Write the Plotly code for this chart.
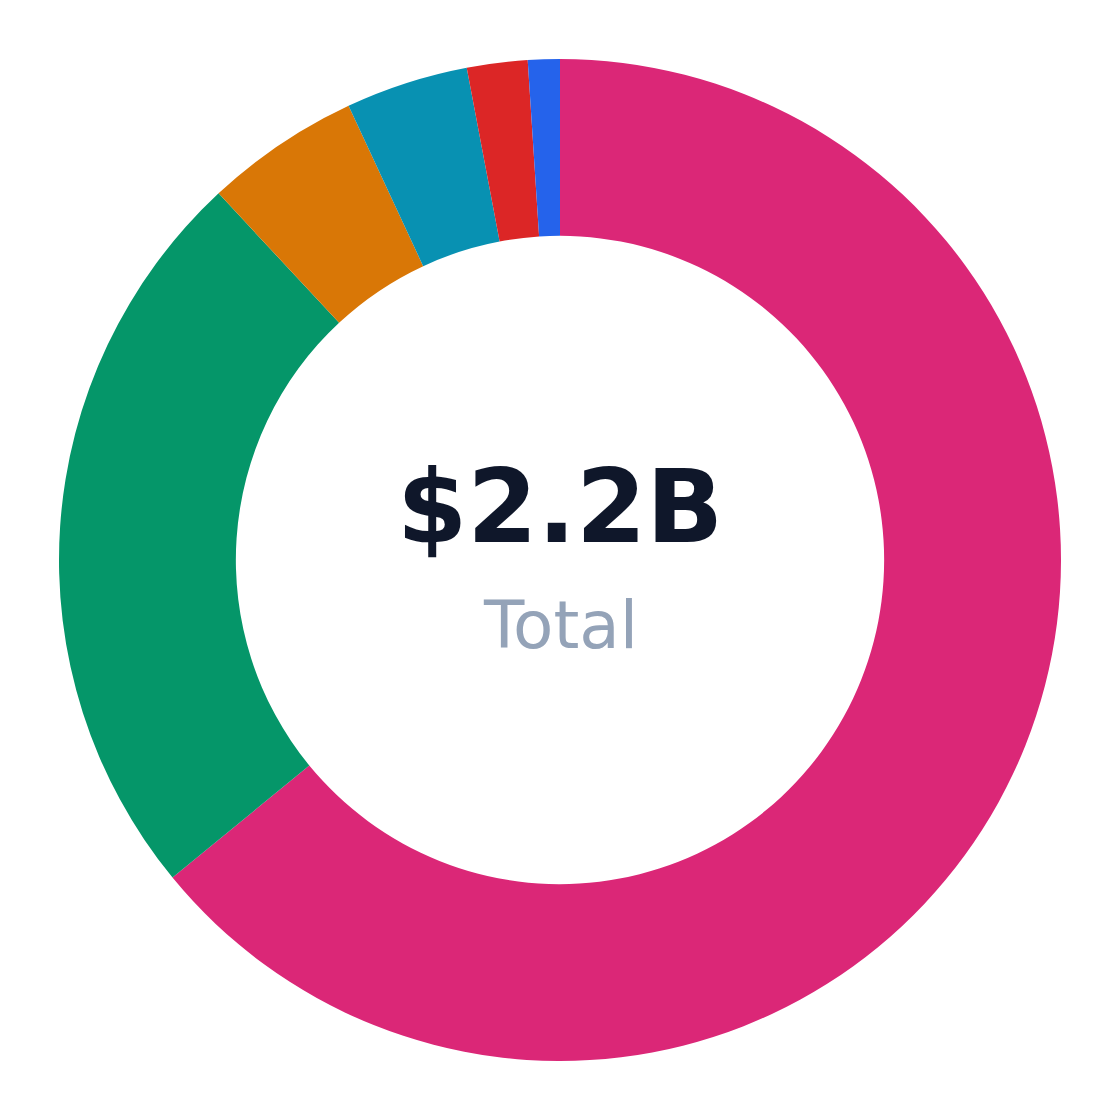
import plotly.graph_objects as go

# Slice values in $B
categories = ["Segment A", "Segment B", "Segment C", "Segment D", "Segment E", "Segment F"]
values = [1.41, 0.528, 0.11, 0.087, 0.043, 0.0226]
colors = ["#DB2777", "#059669", "#D97706", "#0891B2", "#DC2626", "#2563EB"]

total_label = "$2.2B"
sub_label = "Total"

fig = go.Figure(go.Pie(
    labels=categories,
    values=values,
    hole=0.647,
    sort=True,
    direction="clockwise",
    rotation=0,
    marker=dict(colors=colors),
    textinfo="none",
    showlegend=False,
))

# Centre text
fig.add_annotation(text=f"<b>{total_label}</b>", x=0.5, y=0.553, xref="paper", yref="paper",
                   showarrow=False, font=dict(family="DejaVu Sans", size=101, color="#0F172A"))
fig.add_annotation(text=sub_label, x=0.5, y=0.435, xref="paper", yref="paper",
                   showarrow=False, font=dict(family="DejaVu Sans", size=66, color="#94A3B8"))

# page has an 8px body margin, so keep the figure a bit smaller
fig.update_layout(width=1104, height=1104,
                  margin=dict(l=51, r=51, t=51, b=51),
                  paper_bgcolor="white", plot_bgcolor="white")
fig.write_html("out.html")
